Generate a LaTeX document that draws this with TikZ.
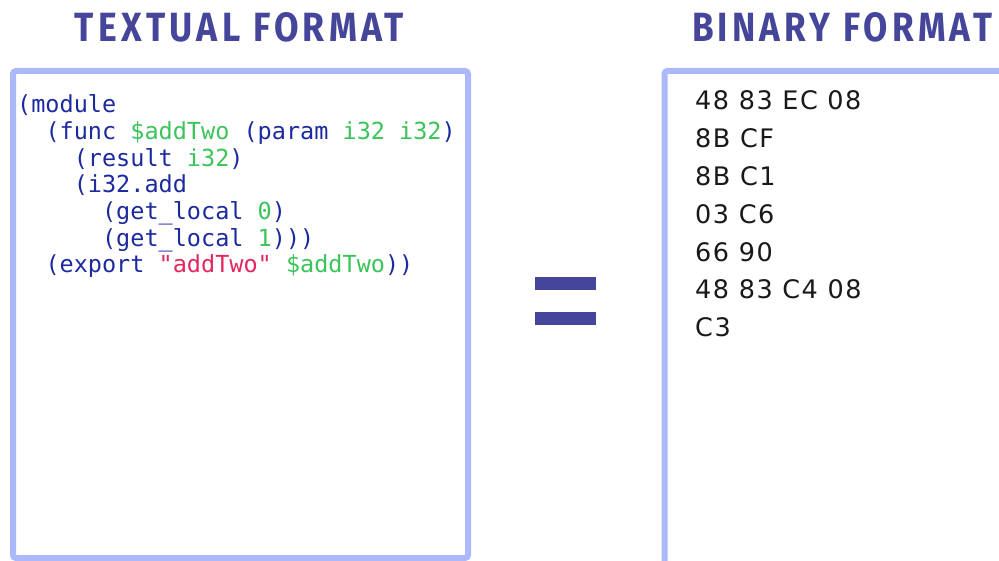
\documentclass[tikz,border=0pt]{standalone}
\usepackage{fontspec}
\usepackage{graphicx}
\newfontfamily\codefont{DejaVu Sans Mono}
\newfontfamily\hexfont{DejaVu Sans}[LetterSpace=6]
\newfontfamily\titlefont{Fira Sans}[LetterSpace=12]
\definecolor{titleblue}{HTML}{45469A}
\definecolor{boxblue}{HTML}{ADB8FB}
\definecolor{codeblue}{HTML}{1C2A9E}
\definecolor{codegreen}{HTML}{3CC45A}
\definecolor{codered}{HTML}{E2265E}
\newcommand\cgrn[1]{\textcolor{codegreen}{#1}}
\newcommand\cred[1]{\textcolor{codered}{#1}}
\newcommand\qmk{\char"22\relax}
\tikzset{
  panel/.style={draw=boxblue, line width=6pt, rounded corners=3pt},
  heading/.style={inner sep=0pt, anchor=base, text=titleblue},
  codeline/.style={inner sep=0pt, anchor=base west, text=codeblue,
    font=\codefont\fontsize{23.5}{28}\selectfont},
  hexline/.style={inner sep=0pt, anchor=base west, text=black!90,
    font=\hexfont\fontsize{25.5}{32}\selectfont},
  eqbar/.style={fill=titleblue, draw=none},
}
\begin{document}
\begin{tikzpicture}[x=1pt,y=-1pt]
\useasboundingbox (0,0) rectangle (999,561);
% panels
\draw[panel] (13,71) rectangle (468,558);
\draw[panel] (1010,71) -- (664.5,71) -- (664.5,565);
% headings
\node[heading] (t1) at (239.5,42) {\resizebox{329pt}{29pt}{\titlefont\bfseries TEXTUAL FORMAT}};
\node[heading] (t2) at (842,42) {\resizebox{300pt}{29pt}{\titlefont\bfseries BINARY FORMAT}};
% equals sign
\fill[eqbar] (535,277) rectangle (596,290);
\fill[eqbar] (535,312) rectangle (596,325);
% code
\def\cw{14.15}
\def\cx{17}
\node[codeline] (c1) at (\cx,112.7) {(module};
\node[codeline] (c2) at (\cx+2*\cw,139.4) {(func \cgrn{\$addTwo} (param \cgrn{i32 i32})};
\node[codeline] (c3) at (\cx+4*\cw,166.1) {(result \cgrn{i32})};
\node[codeline] (c4) at (\cx+4*\cw,192.8) {(i32.add};
\node[codeline] (c5) at (\cx+6*\cw,219.5) {(get\_local \cgrn{0})};
\node[codeline] (c6) at (\cx+6*\cw,246.2) {(get\_local \cgrn{1})))};
\node[codeline] (c7) at (\cx+2*\cw,272.9) {(export \cred{\qmk addTwo\qmk} \cgrn{\$addTwo}))};
% hex
\node[hexline] (h1) at (695,110) {48 83 EC 08};
\node[hexline] (h2) at (695,147.8) {8B CF};
\node[hexline] (h3) at (695,185.6) {8B C1};
\node[hexline] (h4) at (695,223.4) {03 C6};
\node[hexline] (h5) at (695,261.2) {66 90};
\node[hexline] (h6) at (695,299) {48 83 C4 08};
\node[hexline] (h7) at (695,336.8) {C3};
\end{tikzpicture}
\end{document}
